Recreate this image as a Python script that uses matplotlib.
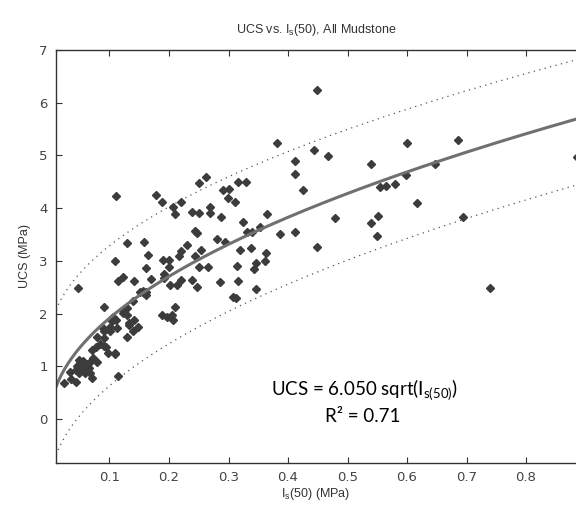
import numpy as np
import matplotlib
matplotlib.use("Agg")
import matplotlib.pyplot as plt

# point load index Is(50) (MPa) and UCS (MPa)
is50 = [0.024, 0.034, 0.035, 0.044, 0.044, 0.045, 0.048, 0.050, 0.053, 0.049,
        0.059, 0.059, 0.066, 0.067, 0.070, 0.068, 0.072, 0.079, 0.070, 0.077,
        0.079, 0.084, 0.091, 0.090, 0.089, 0.090, 0.098, 0.101, 0.101, 0.104,
        0.106, 0.111, 0.112, 0.109, 0.115, 0.123, 0.122, 0.129, 0.130, 0.132,
        0.133, 0.130, 0.139, 0.141, 0.140, 0.148, 0.151, 0.161, 0.161, 0.158,
        0.047, 0.090, 0.094, 0.110, 0.055, 0.062,
        0.110, 0.129, 0.115, 0.123, 0.142, 0.158, 0.165, 0.161, 0.170, 0.190,
        0.200, 0.200, 0.192, 0.202, 0.213, 0.220, 0.216, 0.220, 0.230, 0.188,
        0.196, 0.205, 0.206, 0.210, 0.238, 0.247, 0.251, 0.266, 0.286, 0.316,
        0.308, 0.313, 0.280, 0.294, 0.314, 0.319, 0.338, 0.363, 0.361, 0.347,
        0.343, 0.346, 0.253, 0.244, 0.243, 0.247, 0.331, 0.339, 0.325, 0.365,
        0.353, 0.387, 0.411, 0.449, 0.192, 0.157,
        0.111, 0.178, 0.189, 0.206, 0.210, 0.220, 0.238, 0.251, 0.263, 0.251,
        0.269, 0.269, 0.287, 0.290, 0.301, 0.299, 0.311, 0.316, 0.329, 0.382,
        0.443, 0.468, 0.411, 0.411, 0.425, 0.449, 0.479, 0.540, 0.540, 0.552,
        0.549, 0.555, 0.565, 0.580, 0.598, 0.600, 0.617, 0.647, 0.685, 0.694,
        0.740, 0.885]
ucs = [0.68, 0.90, 0.76, 0.71, 0.92, 1.01, 1.12, 1.06, 0.96, 0.87,
       0.99, 0.87, 0.96, 1.09, 0.77, 0.87, 1.15, 1.09, 1.31, 1.37,
       1.55, 1.42, 1.39, 1.53, 1.72, 1.66, 1.25, 1.75, 1.66, 1.85,
       1.94, 1.87, 1.72, 1.23, 0.82, 2.02, 2.06, 1.97, 2.10, 1.82,
       1.78, 1.55, 1.66, 1.87, 2.23, 1.75, 2.40, 2.41, 2.35, 2.39,
       2.48, 2.12, 1.36, 1.25, 1.10, 1.04,
       3.00, 3.33, 2.62, 2.69, 2.61, 3.35, 3.11, 2.86, 2.65, 3.02,
       3.02, 2.88, 2.75, 2.54, 2.54, 2.64, 3.09, 3.19, 3.30, 1.97,
       1.93, 1.97, 1.88, 2.13, 2.64, 2.51, 2.88, 2.88, 2.59, 2.61,
       2.32, 2.29, 3.41, 3.35, 2.90, 3.21, 3.25, 3.14, 3.00, 2.95,
       2.84, 2.46, 3.21, 3.10, 3.57, 3.53, 3.54, 3.54, 3.74, 3.88,
       3.65, 3.51, 3.55, 3.26, 2.67, 2.42,
       4.23, 4.25, 4.11, 4.02, 3.88, 4.11, 3.93, 4.48, 4.60, 3.90,
       4.03, 3.90, 3.84, 4.35, 4.36, 4.19, 4.12, 4.50, 4.50, 5.23,
       5.10, 4.98, 4.90, 4.65, 4.35, 6.24, 3.81, 4.83, 3.71, 3.85,
       3.47, 4.41, 4.42, 4.46, 4.63, 5.23, 4.10, 4.83, 5.29, 3.84,
       2.48, 4.97]

# fit UCS = a*sqrt(Is) and the dotted bounds (b*sqrt(Is) + c)
fit_a = 6.050
upper_b, upper_c = 5.65, 1.50
lower_b, lower_c = 6.10, -1.30
r2 = 0.71

xmin, xmax = 0.0101, 0.884
ymin, ymax = -0.835, 7.0

fig = plt.figure(figsize=(5.76, 5.12), dpi=100)
ax = fig.add_axes([56/576, 1-463/512, 1-56/576, (463-50)/512])

xs = np.linspace(xmin, xmax + 0.02, 300)
ax.plot(xs, upper_b*np.sqrt(xs) + upper_c, color="#555555", lw=0.9, ls=(0, (1, 3.5)))
ax.plot(xs, lower_b*np.sqrt(xs) + lower_c, color="#555555", lw=0.9, ls=(0, (1, 3.5)))
ax.plot(is50, ucs, ls="none", marker="D", ms=3.6, color="#3c3c3c", mec="#3c3c3c")
ax.plot(xs, fit_a*np.sqrt(xs), color="#707070", lw=2.2)

ax.set_xlim(xmin, xmax)
ax.set_ylim(ymin, ymax)
ax.set_xticks([0.1, 0.2, 0.3, 0.4, 0.5, 0.6, 0.7, 0.8])
ax.set_xticklabels(["0.1", "0.2", "0.3", "0.4", "0.5", "0.6", "0.7", "0.8"])
ax.set_yticks([0, 1, 2, 3, 4, 5, 6, 7])
ax.tick_params(direction="in", length=4, width=0.8, top=True, labelsize=9.5,
               colors="#333333", labelcolor="#444444", pad=6)
ax.spines["right"].set_visible(False)
for s in ["left", "top", "bottom"]:
    ax.spines[s].set_color("#333333")
    ax.spines[s].set_linewidth(1.0)

lab = dict(family="Liberation Sans", fontsize=9, color="#333333")
ax.set_title(r"UCS vs. I$_\mathregular{s}$(50), All Mudstone", pad=12, **lab)
ax.set_xlabel(r"I$_\mathregular{s}$(50) (MPa)", labelpad=1, **lab)
ax.set_ylabel("UCS (MPa)", labelpad=6, **lab)

# equation box
ax.text(0.529, (419-390)/52.7, r"UCS = %.3f sqrt(I$_\mathregular{s(50)}$)" % fit_a,
        ha="center", va="center", family="Lato", fontsize=13.5, color="black")
ax.text(0.526, (419-417)/52.7, "R\u00b2 = %.2f" % r2, ha="center", va="center",
        family="Lato", fontsize=13.5, color="black")

fig.savefig("out.png", dpi=100)
